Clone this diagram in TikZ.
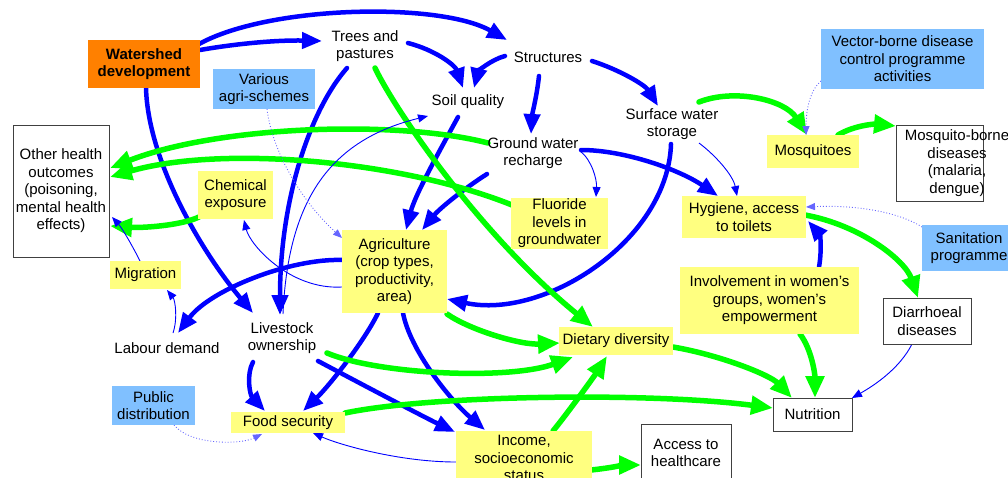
\documentclass[tikz,border=0pt]{standalone}
\usepackage{fontspec}
\setmainfont{Liberation Sans}
\usetikzlibrary{arrows.meta,calc}
\definecolor{cblue}{HTML}{0000FF}
\definecolor{cgreen}{HTML}{00FF00}
\definecolor{cyel}{HTML}{FFFF80}
\definecolor{cprog}{HTML}{80C0FF}
\definecolor{corange}{HTML}{FF8000}
\pgfdeclarelayer{bg}
\pgfsetlayers{bg,main}
\tikzset{
  txt/.style={font=\fontsize{15}{17.5}\selectfont, align=center, inner sep=0pt},
  ybox/.style={txt, fill=cyel},
  pbox/.style={txt, fill=cprog},
  wbox/.style={txt, draw=black!75, line width=1pt, fill=white},
  obox/.style={txt, fill=corange, font=\fontsize{15}{17.5}\selectfont\bfseries},
  thickb/.style={draw=cblue, line width=4.5pt, line cap=round, -{Triangle[length=20pt,width=16pt]}},
  thickg/.style={draw=cgreen, line width=5.5pt, line cap=round, -{Triangle[length=22pt,width=18pt]}},
  thinb/.style={draw=cblue, line width=0.9pt, -{Triangle[length=10pt,width=8pt]}},
  dotb/.style={draw=cblue!60, line width=0.9pt, dotted, -{Triangle[length=9pt,width=7pt]}}
}
\begin{document}
\begin{tikzpicture}[x=1pt,y=-1pt]
\useasboundingbox (0,0) rectangle (1008,477);
% nodes
\node[obox, minimum width=112, minimum height=48] (ws) at (144,64) {Watershed\\development};
\node[txt] (trees) at (365,46) {Trees and\\pastures};
\node[txt] (struct) at (548,57) {Structures};
\node[txt] (soil) at (468,102) {Soil quality};
\node[txt] (sws) at (672,124) {Surface water\\storage};
\node[txt] (gwr) at (533,153) {Ground water\\recharge};
\node[pbox, minimum width=163, minimum height=60] (vbd) at (902.5,59) {Vector-borne disease\\control programme\\activities};
\node[ybox, minimum width=92, minimum height=33] (mosq) at (813,151.5) {Mosquitoes};
\node[wbox, minimum width=87, minimum height=76] (mbd) at (939.5,163) {};
\node[txt] (mbdt) at (957,163) {Mosquito-borne\\diseases\\(malaria,\\dengue)};
\node[wbox, minimum width=96, minimum height=132] (other) at (61,191) {Other health\\outcomes\\(poisoning,\\mental health\\effects)};
\node[ybox, minimum width=75, minimum height=48] (chem) at (235.5,195) {Chemical\\exposure};
\node[ybox, minimum width=71, minimum height=28] (migr) at (145.5,275) {Migration};
\node[txt] (labour) at (167,348) {Labour demand};
\node[txt] (live) at (282,338) {Livestock\\ownership};
\node[pbox, minimum width=83, minimum height=39] (pubd) at (153.5,405.5) {Public\\distribution};
\node[ybox, minimum width=114, minimum height=21] (food) at (288,422.5) {Food security};
\node[ybox, minimum width=105, minimum height=83] (agri) at (394.5,271.5) {Agriculture\\(crop types,\\productivity,\\area)};
\node[ybox, minimum width=97, minimum height=51] (fluor) at (559.5,223.5) {Fluoride\\levels in\\groundwater};
\node[ybox, minimum width=124, minimum height=42] (hyg) at (744,217) {Hygiene, access\\to toilets};
\node[pbox, minimum width=94, minimum height=46] (sanit) at (969,248) {Sanitation\\programme};
\node[ybox, minimum width=179, minimum height=67] (invol) at (769.5,300.5) {Involvement in women's\\groups, women's\\empowerment};
\node[wbox, minimum width=88, minimum height=46] (diarr) at (927,321) {Diarrhoeal\\diseases};
\node[ybox, minimum width=114, minimum height=28] (diet) at (616,341) {Dietary diversity};
\node[wbox, minimum width=79, minimum height=33] (nutr) at (812.5,414.5) {Nutrition};
\node[ybox, minimum width=136, minimum height=54] (income) at (524,458) {Income,\\socioeconomic\\status};
\node[wbox, minimum width=90, minimum height=58] (access) at (686,453) {Access to\\healthcare};
\node[pbox, minimum width=102, minimum height=40] (various) at (264,89) {Various\\agri-schemes};
\begin{pgfonlayer}{bg}
% thick blue
\draw[thickb] ($(ws)+(56,-14)$) .. controls (240,43) and (280,40) .. ($(trees)+(-43,-5)$);
\draw[thickb] ($(ws)+(55,-20)$) .. controls (270,5) and (440,2) .. ($(struct)+(-41,-17)$);
\draw[thickb] ($(ws)+(2,24)$) .. controls (148,160) and (200,250) .. ($(live)+(-29,-25)$);
\draw[thickb] ($(trees)+(43,-3)$) .. controls (435,50) and (455,65) .. ($(soil)+(-5,-14)$);
\draw[thickb] ($(struct)+(-43,-1)$) .. controls (490,60) and (478,72) .. ($(soil)+(6,-14)$);
\draw[thickb] ($(struct)+(-9,19)$) .. controls (537,95) and (532,115) .. ($(gwr)+(-2,-19)$);
\draw[thickb] ($(struct)+(44,4)$) .. controls (620,70) and (645,85) .. ($(sws)+(-14,-18)$);
\draw[thickb] ($(trees)+(-18,22)$) .. controls (310,110) and (280,200) .. ($(live)+(-2,-23)$);
\draw[thickb] ($(soil)+(-10,15)$) .. controls (440,150) and (415,195) .. ($(agri)+(11.5,-41.5)$);
\draw[thickb] ($(gwr)+(-46,21)$) .. controls (465,188) and (440,208) .. ($(agri)+(27.5,-41.5)$);
\draw[thickb] ($(gwr)+(48,-3)$) .. controls (625,150) and (680,170) .. ($(hyg)+(-26,-21)$);
\draw[thickb] ($(sws)+(-1,20)$) .. controls (668,240) and (545,320) .. ($(agri)+(52.5,27.5)$);
\draw[thickb] ($(agri)+(-51.5,-11.5)$) .. controls (290,258) and (210,290) .. ($(labour)+(11,-15)$);
\draw[thickb] ($(agri)+(-16.5,41.5)$) .. controls (365,340) and (330,385) .. ($(food)+(15,-11.5)$);
\draw[thickb] ($(agri)+(8.5,41.5)$) .. controls (410,350) and (450,400) .. ($(income)+(-39,-28)$);
\draw[thickb] ($(live)+(-29,24)$) .. controls (246,375) and (250,395) .. ($(food)+(-23,-11.5)$);
\draw[thickb] ($(live)+(36,23)$) .. controls (350,378) and (420,415) .. ($(income)+(-69,-26)$);
\draw[thickb] ($(invol)+(49.5,-33.5)$) .. controls (822,250) and (820,235) .. ($(hyg)+(64,4)$);
% thick green
\draw[thickg] ($(trees)+(10,22)$) .. controls (395,110) and (480,235) .. ($(diet)+(-23,-14)$);
\draw[thickg] ($(gwr)+(-45,-10)$) .. controls (400,120) and (220,125) .. ($(other)+(49,-23)$);
\draw[thickg] ($(fluor)+(-47.5,-18.5)$) .. controls (400,160) and (220,145) .. ($(other)+(49,-14)$);
\draw[thickg] ($(chem)+(-36.5,22)$) .. controls (180,226) and (140,228) .. ($(other)+(49,35)$);
\draw[thickg] ($(sws)+(27,-22)$) .. controls (735,88) and (785,100) .. ($(mosq)+(-6,-16.5)$);
\draw[thickg] ($(mosq)+(25,-16.5)$) .. controls (855,125) and (875,124) .. ($(mbd)+(-43.5,-37)$);
\draw[thickg] ($(hyg)+(61,-2)$) .. controls (860,225) and (905,260) .. ($(diarr)+(-9,-23)$);
\draw[thickg] ($(agri)+(52.5,42.5)$) .. controls (470,330) and (520,345) .. ($(diet)+(-56,2)$);
\draw[thickg] ($(live)+(45,15)$) .. controls (380,375) and (510,380) .. ($(diet)+(-43,16)$);
\draw[thickg] ($(food)+(57,-9.5)$) .. controls (430,395) and (650,392) .. ($(nutr)+(-39.5,-6.5)$);
\draw[thickg] ($(income)+(29,-27)$) .. controls (570,410) and (595,375) .. ($(diet)+(-9,15)$);
\draw[thickg] ($(income)+(67,12)$) .. controls (610,468) and (625,465) .. ($(access)+(-45,12)$);
\draw[thickg] ($(diet)+(57,6)$) .. controls (720,355) and (770,375) .. ($(nutr)+(-20.5,-16.5)$);
\draw[thickg] ($(invol)+(30.5,33.5)$) .. controls (812,350) and (815,375) .. ($(nutr)+(2.5,-16.5)$);
% thin blue
\draw[thinb] ($(gwr)+(47,-2)$) .. controls (592,160) and (597,180) .. ($(fluor)+(36.5,-26.5)$);
\draw[thinb] ($(sws)+(27,19)$) .. controls (715,155) and (733,175) .. ($(hyg)+(-7,-21)$);
\draw[thinb] ($(agri)+(-52.5,15.5)$) .. controls (290,290) and (250,245) .. ($(chem)+(8.5,25)$);
\draw[thinb] ($(live)+(1,-24)$) .. controls (288,200) and (330,140) .. ($(soil)+(-40,14)$);
\draw[thinb] ($(labour)+(6,-15)$) .. controls (178,318) and (175,300) .. ($(migr)+(21.5,15)$);
\draw[thinb] ($(migr)+(-5.5,-14)$) .. controls (132,245) and (122,228) .. ($(other)+(51,26)$);
\draw[thinb] ($(income)+(-68,4)$) .. controls (400,462) and (340,445) .. ($(food)+(25,10.5)$);
\draw[thinb] ($(diarr)+(-15,23)$) .. controls (900,368) and (875,385) .. ($(nutr)+(39.5,-16.5)$);
% dotted programme links
\draw[dotb] ($(various)+(3,20)$) .. controls (272,150) and (300,200) .. ($(agri)+(-52.5,-33.5)$);
\draw[dotb] ($(vbd)+(-81.5,22)$) .. controls (810,90) and (806,110) .. ($(mosq)+(-7,-16.5)$);
\draw[dotb] ($(sanit)+(-47,-21)$) .. controls (895,210) and (850,205) .. ($(hyg)+(62,-10)$);
\draw[dotb] ($(pubd)+(20.5,19.5)$) .. controls (190,445) and (240,445) .. ($(food)+(-26,11.5)$);
\end{pgfonlayer}
\end{tikzpicture}
\end{document}
